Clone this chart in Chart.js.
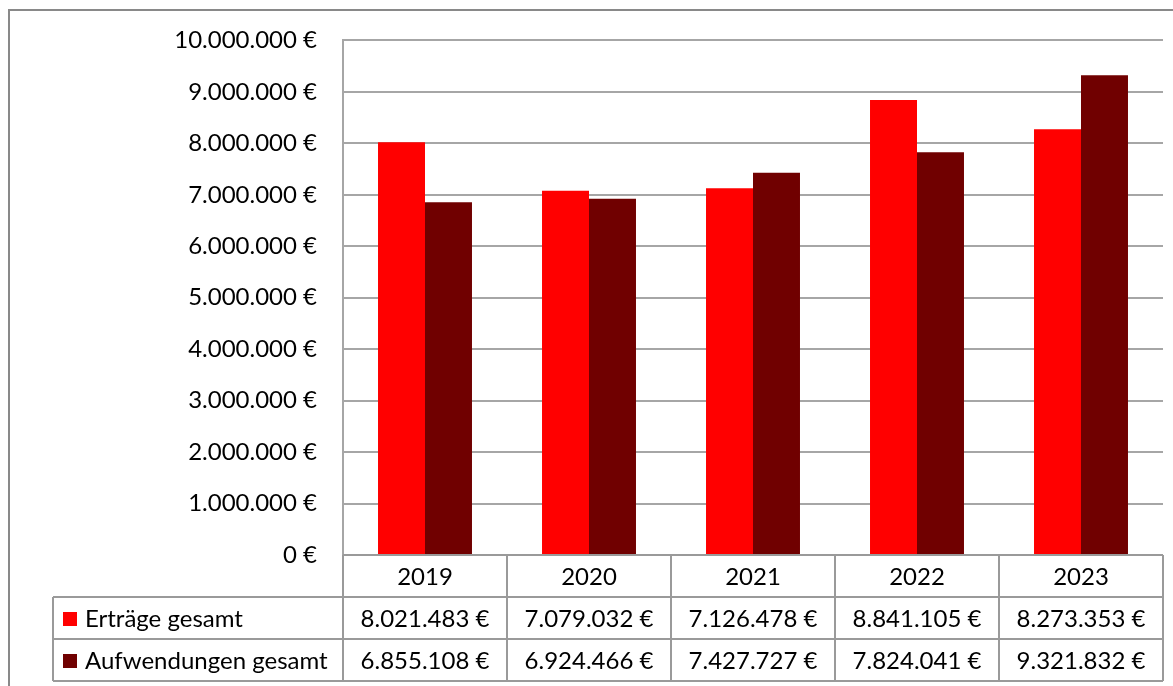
<!DOCTYPE html>
<html>
<head>
<meta charset="utf-8">
<script src="https://cdn.jsdelivr.net/npm/chart.js@4.4.1/dist/chart.umd.min.js"></script>
<style>
  html, body { margin: 0; padding: 0; background: #fff; }
  #wrap { width: 1173px; height: 686px; position: relative; }
</style>
</head>
<body>
<div id="wrap"><canvas id="c" width="1173" height="686"></canvas></div>
<script>
const years = ['2019', '2020', '2021', '2022', '2023'];
const ertraege = [8021483, 7079032, 7126478, 8841105, 8273353];
const aufwendungen = [6855108, 6924466, 7427727, 7824041, 9321832];
const seriesNames = ['Erträge gesamt', 'Aufwendungen gesamt'];
const seriesColors = ['#ff0000', '#700000'];

const FONT = 'Lato, "Open Sans", sans-serif';
const FSIZE = 24;

// 8021483 -> "8.021.483 €"
function euro(v) {
  return String(Math.round(v)).replace(/\B(?=(\d{3})+(?!\d))/g, '.') + ' €';
}

// draws the outer frame and the Excel-like data table under the plot
const tablePlugin = {
  id: 'dataTable',
  afterDraw(chart) {
    const ctx = chart.ctx;
    const x = chart.scales.x;
    const area = chart.chartArea;
    const rowH = 42;
    const half = (x.getPixelForValue(1) - x.getPixelForValue(0)) / 2;
    const left = x.getPixelForValue(0) - half;
    const right = x.getPixelForValue(years.length - 1) + half;
    const legendLeft = 53;
    const top = area.bottom;

    ctx.save();
    // outer frame
    ctx.strokeStyle = '#898989';
    ctx.lineWidth = 2;
    ctx.beginPath();
    ctx.moveTo(9, 700);
    ctx.lineTo(9, 10);
    ctx.lineTo(1180, 10);
    ctx.stroke();

    ctx.strokeStyle = '#9a9a9a';
    ctx.lineWidth = 2;
    ctx.beginPath();
    // header row
    ctx.moveTo(left, top); ctx.lineTo(right, top);
    for (let r = 1; r <= 3; r++) {
      const y = top + r * rowH;
      ctx.moveTo(legendLeft, y); ctx.lineTo(right, y);
    }
    ctx.moveTo(legendLeft, top + rowH); ctx.lineTo(legendLeft, top + 3 * rowH);
    for (let i = 0; i <= years.length; i++) {
      const px = left + i * half * 2;
      ctx.moveTo(px, top); ctx.lineTo(px, top + 3 * rowH);
    }
    ctx.stroke();

    ctx.fillStyle = '#000';
    ctx.font = FSIZE + 'px ' + FONT;
    ctx.textBaseline = 'middle';
    ctx.textAlign = 'center';
    years.forEach((y, i) => {
      ctx.fillText(y, x.getPixelForValue(i), top + rowH / 2 + 1);
    });
    [ertraege, aufwendungen].forEach((vals, r) => {
      const cy = top + (r + 1.5) * rowH + 1;
      vals.forEach((v, i) => {
        ctx.fillText(euro(v), x.getPixelForValue(i), cy);
      });
      ctx.fillStyle = seriesColors[r];
      ctx.fillRect(63, cy - 7, 14, 14);
      ctx.fillStyle = '#000';
      ctx.textAlign = 'left';
      ctx.fillText(seriesNames[r], 85, cy);
      ctx.textAlign = 'center';
    });
    ctx.restore();
  }
};

new Chart(document.getElementById('c'), {
  type: 'bar',
  data: {
    labels: years,
    datasets: [
      { label: seriesNames[0], data: ertraege, backgroundColor: seriesColors[0] },
      { label: seriesNames[1], data: aufwendungen, backgroundColor: seriesColors[1] }
    ]
  },
  options: {
    responsive: false,
    animation: false,
    layout: { padding: { top: 40, right: 10, bottom: 131, left: 0 } },
    datasets: { bar: { categoryPercentage: 0.573, barPercentage: 1.0 } },
    plugins: {
      legend: { display: false },
      tooltip: { enabled: false }
    },
    scales: {
      x: {
        display: true,
        grid: { display: false, drawTicks: false },
        border: { display: false },
        ticks: { display: false }
      },
      y: {
        min: 0,
        max: 10000000,
        afterFit(scale) { scale.width = 343; },
        grid: { color: '#a6a6a6', lineWidth: 2, drawTicks: false },
        border: { display: true, color: '#a6a6a6', width: 2 },
        ticks: {
          stepSize: 1000000,
          padding: 26,
          color: '#000',
          font: { family: FONT, size: FSIZE },
          callback: (v) => euro(v)
        }
      }
    }
  },
  plugins: [tablePlugin]
});
</script>
</body>
</html>
